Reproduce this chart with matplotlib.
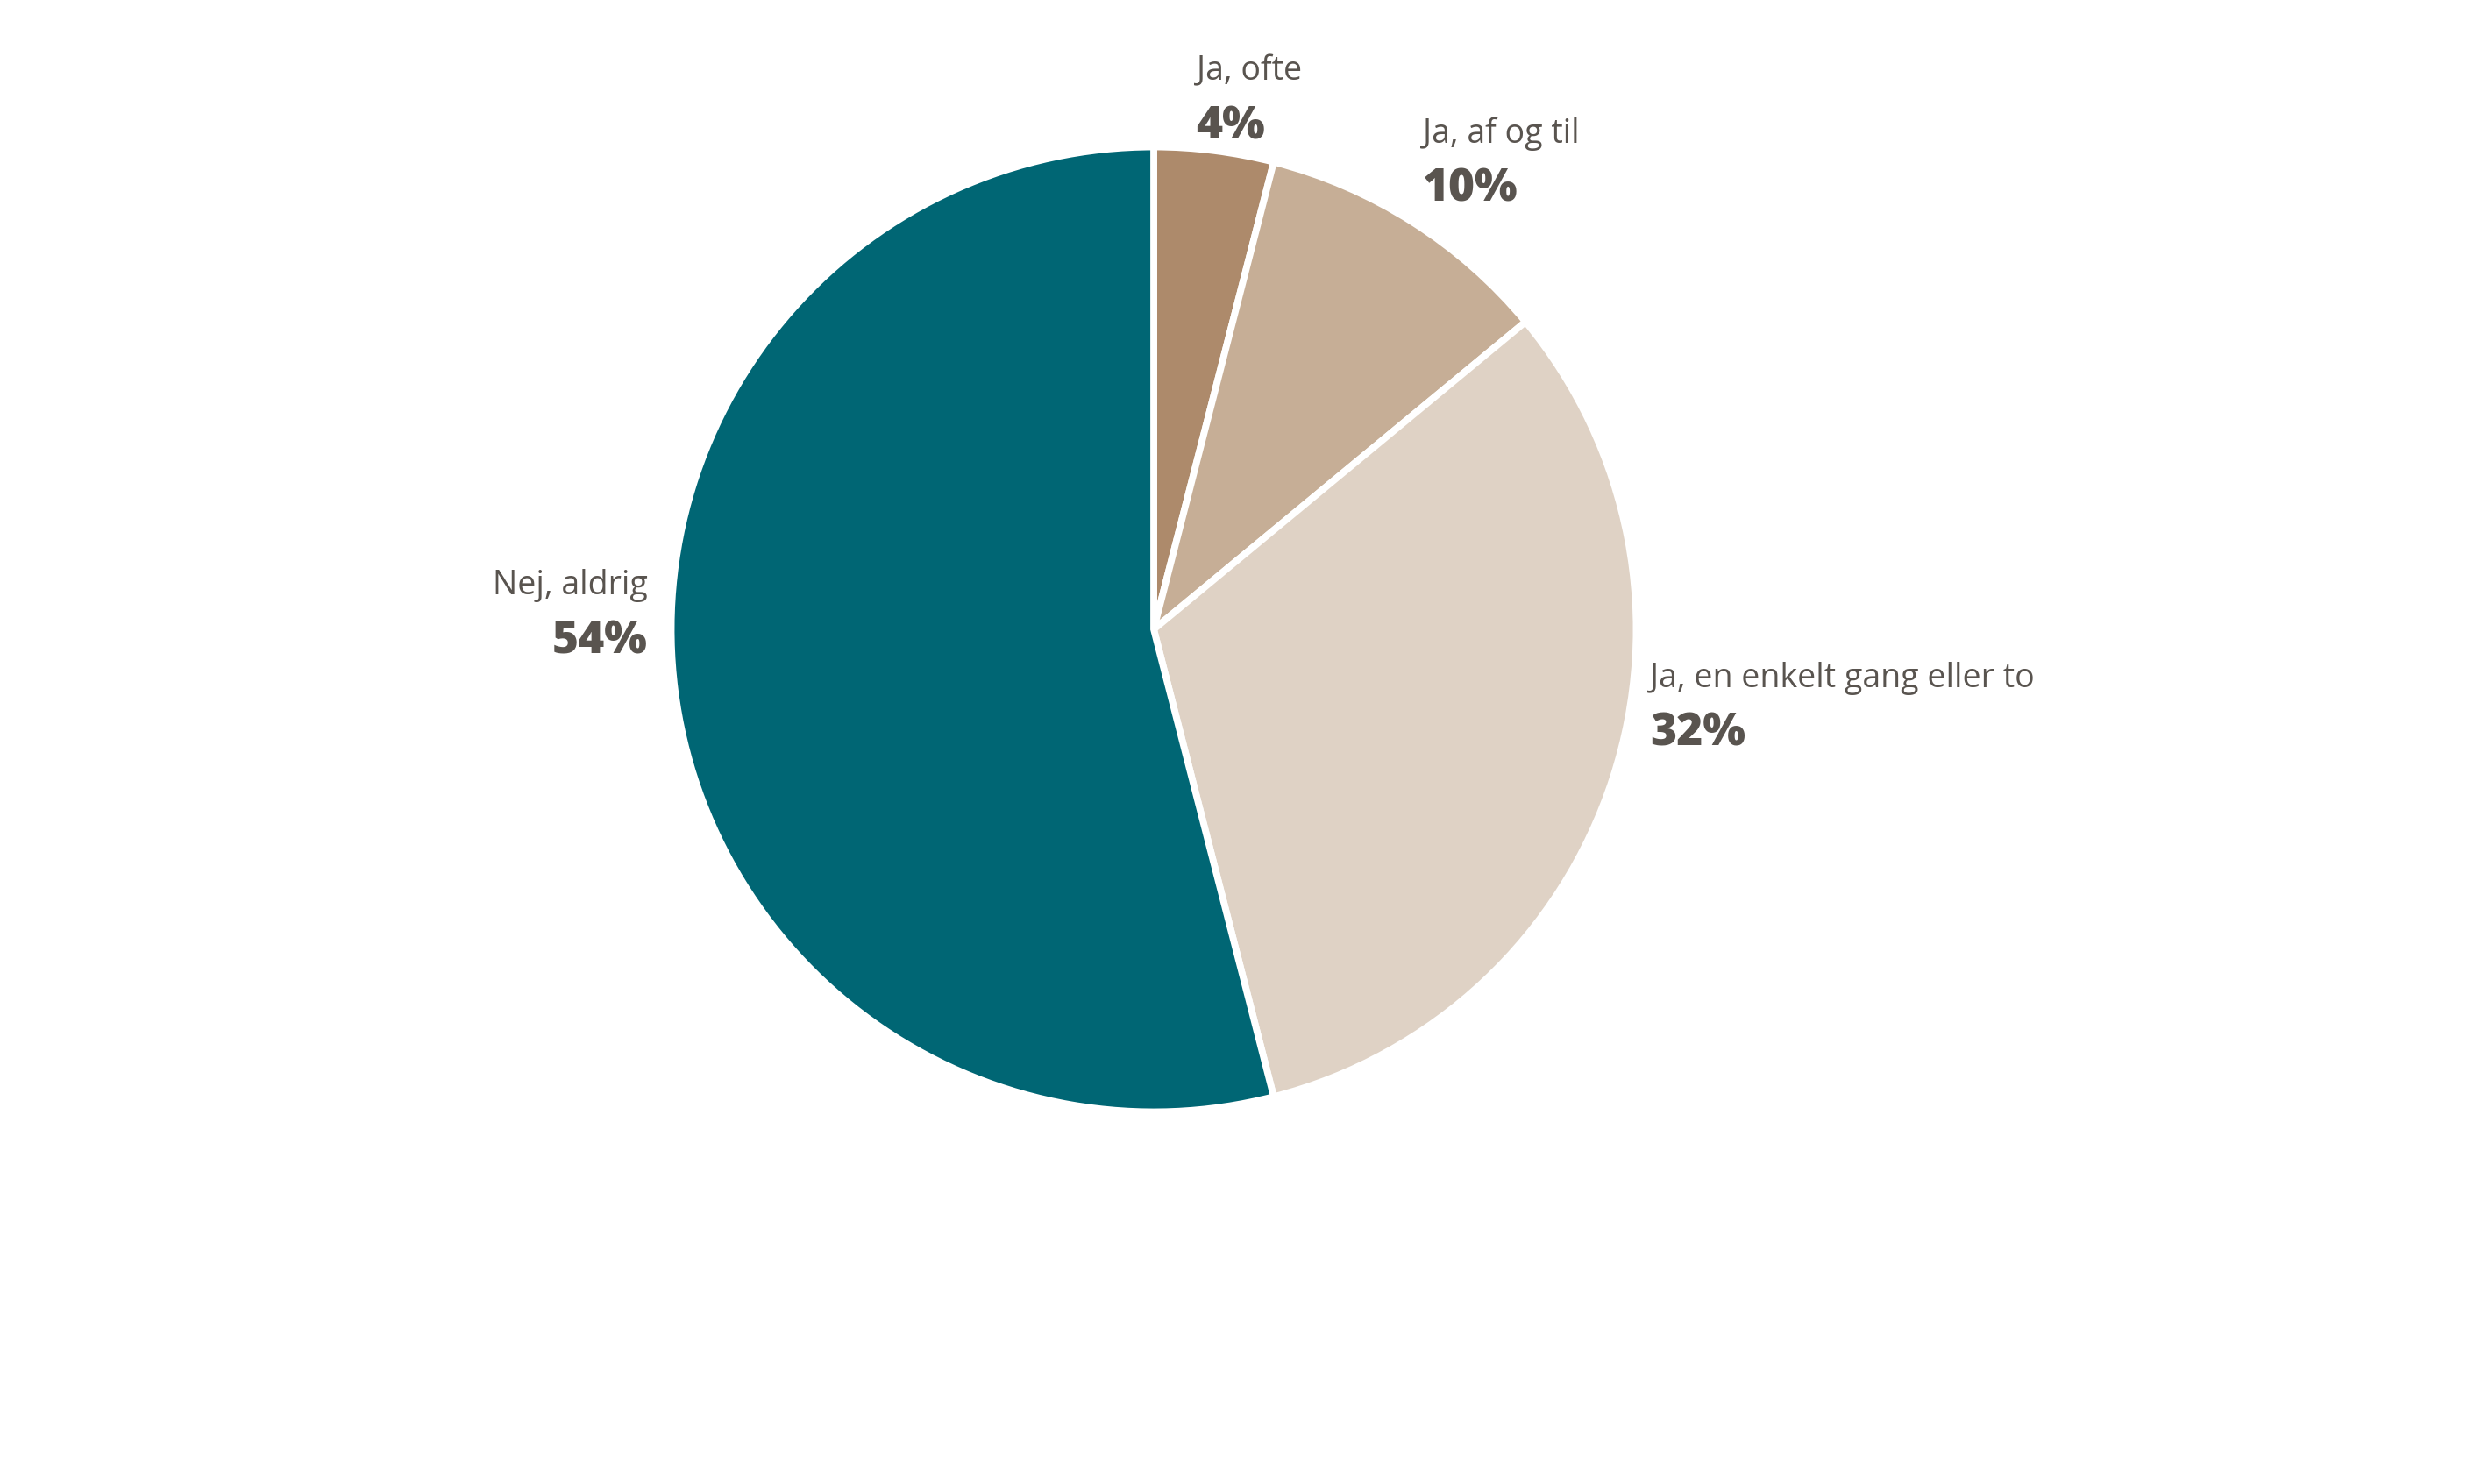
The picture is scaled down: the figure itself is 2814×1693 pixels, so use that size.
import matplotlib.pyplot as plt

# survey answers, clockwise from 12 o'clock
labels = ['Ja, ofte', 'Ja, af og til', 'Ja, en enkelt gang eller to', 'Nej, aldrig']
values = [4, 10, 32, 54]
colors = ['#ad8a6b', '#c6ae96', '#dfd2c5', '#006674']

# label block anchors (pie radius = 1), and horizontal alignment
label_pos = [(0.089, 1.11), (0.564, 0.98), (1.039, -0.16), (-1.059, 0.033)]
label_ha = ['left', 'left', 'left', 'right']

txt_color = '#59544f'
plt.rcParams['font.family'] = ['Open Sans', 'DejaVu Sans']

fig = plt.figure(figsize=(14.07, 8.465), dpi=200)
ax = fig.add_axes([0, 0, 1, 1])

ax.pie(values, colors=colors, startangle=90, counterclock=False, radius=1.01,
       wedgeprops=dict(edgecolor='white', linewidth=2.8))

ax.set_xlim(-1316 / 545, (2814 - 1316) / 545)
ax.set_ylim(-(1693 - 718) / 545, 718 / 545)
ax.set_aspect('auto')
ax.axis('off')

for lab, v, (x, y), ha in zip(labels, values, label_pos, label_ha):
    ax.text(x, y + 0.058, lab, ha=ha, va='center', fontsize=13.5, color=txt_color)
    ax.text(x, y - 0.058, str(v) + '%', ha=ha, va='center', fontsize=18.5,
            fontweight='heavy', color=txt_color)

fig.savefig('out.png', dpi=200, facecolor='white')
